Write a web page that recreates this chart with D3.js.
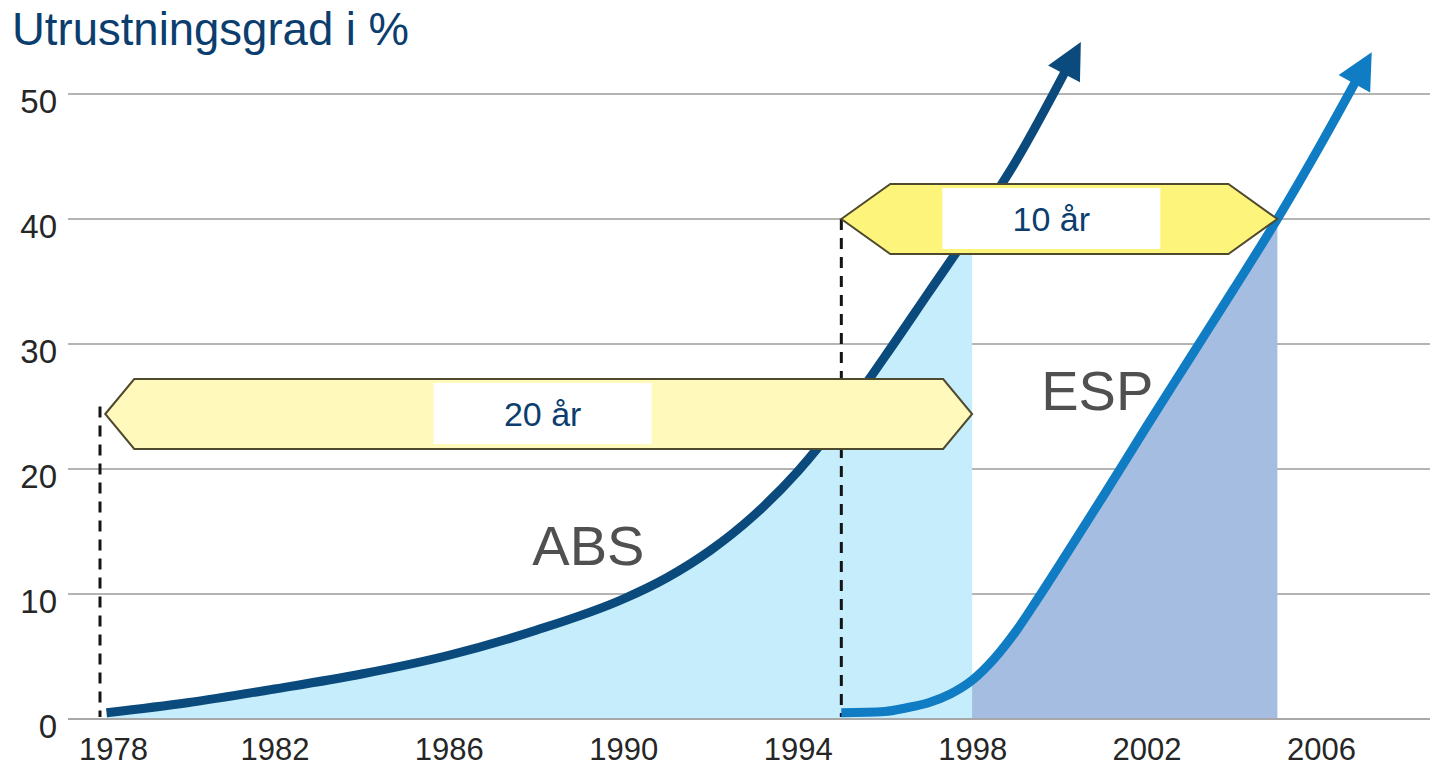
<!DOCTYPE html>
<html>
<head>
<meta charset="utf-8">
<script src="https://cdn.jsdelivr.net/npm/d3@7"></script>
<style>
  html, body { margin: 0; padding: 0; background: #ffffff; }
  svg { display: block; font-family: "Liberation Sans", Arial, sans-serif; }
</style>
</head>
<body>
<svg id="chart" width="1430" height="768"></svg>
<script>
// ---------- data ----------
const titleText = "Utrustningsgrad i %";
const xTickYears = [1978, 1982, 1986, 1990, 1994, 1998, 2002, 2006];
const yTickValues = [0, 10, 20, 30, 40, 50];

const absYears  = [1978.15, 1980, 1982, 1984, 1986, 1988, 1990, 1991, 1992, 1993, 1994, 1995, 1996, 1997, 1998, 1999, 2000.15];
const absValues = [0.5,     1.3,  2.4,  3.6,  5.1,  7.1,  9.6,  11.3, 13.5, 16.3, 19.8, 24.1, 29.0, 34.1, 39.2, 44.6, 51.9];

const espYears  = [1995, 1996, 1996.5, 1997, 1997.5, 1998, 1998.5, 1999, 1999.5, 2000, 2001, 2002, 2003, 2004, 2005, 2006, 2006.81];
const espValues = [0.5,  0.6,  0.9,    1.3,  2.0,    3.1,  4.8,    7.0,  9.6,    12.3, 17.8, 23.4, 28.9, 34.4, 40,   46,   51.1];

const fillFrom = [1978.15, 1995];
const fillTo   = [1998, 2005];

const seriesNames       = ["ABS", "ESP"];
const seriesLabelYear   = [1989.2, 2000.87];
const seriesLabelValue  = [12.3, 24.7];

const spanLabels = ["20 år", "10 år"];
const spanFrom   = [1978.12, 1995];
const spanTo     = [1998, 2005];
const spanLevel  = [24.4, 40];

const guideYears = [1978, 1995];
const guideTops  = [25, 40];

// ---------- styles ----------
const W = 1430, H = 768;
const lineColors = ["#0b4a7c", "#0f7cc3"];
const fillColors = ["#c6edfb", "#a4bde1"];
const spanFills  = ["#fff9bb", "#fdf47c"];
const spanSlant  = [29, 49];
const spanLabelShift = [4, -8];
const spanHeight = 70;

const svg = d3.select("#chart");

const x = d3.scaleLinear().domain([1978, 2006]).range([100, 1321]);
const y = d3.scaleLinear().domain([0, 50]).range([719, 94]);

// ---------- gridlines ----------
svg.append("g").selectAll("line")
  .data(yTickValues.filter(v => v > 0))
  .join("line")
  .attr("x1", 68).attr("x2", W)
  .attr("y1", d => y(d)).attr("y2", d => y(d))
  .attr("stroke", "#b4b4b4").attr("stroke-width", 2);

// ---------- fills ----------
const absData = absYears.map((t, i) => ({t, v: absValues[i]}));
const espData = espYears.map((t, i) => ({t, v: espValues[i]}));
const allData = [absData, espData];

const area = d3.area().curve(d3.curveMonotoneX)
  .x(d => x(d.t)).y0(y(0)).y1(d => y(d.v));

// draw ESP fill first then ABS fill on top
[1, 0].forEach(i => {
  svg.append("path")
    .datum(allData[i].filter(d => d.t >= fillFrom[i] && d.t <= fillTo[i]))
    .attr("d", area)
    .attr("fill", fillColors[i]);
});

// baseline
svg.append("line")
  .attr("x1", 68).attr("x2", W)
  .attr("y1", y(0)).attr("y2", y(0))
  .attr("stroke", "#a8a8a8").attr("stroke-width", 2);

// ---------- axes ----------
const yAxis = d3.axisLeft(y).tickValues(yTickValues).tickSize(0).tickPadding(11);
const gy = svg.append("g").attr("transform", "translate(68,0)").call(yAxis);
gy.select(".domain").remove();
gy.selectAll("text")
  .attr("font-size", 33).attr("fill", "#262626")
  .attr("font-family", "Liberation Sans, Arial, sans-serif")
  .attr("dy", "0.55em");

const xAxis = d3.axisBottom(x).tickValues(xTickYears).tickSize(0).tickFormat(d3.format("d"));
const gx = svg.append("g").attr("transform", `translate(0,${y(0)})`).call(xAxis);
gx.select(".domain").remove();
gx.selectAll("text")
  .attr("font-size", 31).attr("fill", "#262626")
  .attr("font-family", "Liberation Sans, Arial, sans-serif")
  .attr("y", 41).attr("dy", 0)
  .attr("dx", (d, i) => i === 0 ? 13 : 0);

// ---------- guide dashed lines ----------
svg.append("g").selectAll("line")
  .data(guideYears)
  .join("line")
  .attr("x1", d => x(d)).attr("x2", d => x(d))
  .attr("y1", (d, i) => y(guideTops[i])).attr("y2", y(0) - 2)
  .attr("stroke", "#141414").attr("stroke-width", 3)
  .attr("stroke-dasharray", "11,8");

// ---------- arrow markers ----------
const defs = svg.append("defs");
lineColors.forEach((c, i) => {
  defs.append("marker")
    .attr("id", "head" + i)
    .attr("markerUnits", "userSpaceOnUse")
    .attr("orient", "auto")
    .attr("refX", 0).attr("refY", 0)
    .attr("markerWidth", 80).attr("markerHeight", 80)
    .attr("viewBox", "-40 -40 80 80")
    .append("path")
    .attr("d", "M-4,-18 L32,0 L-4,18 Z")
    .attr("fill", c);
});

// ---------- lines ----------
const line = d3.line().curve(d3.curveMonotoneX).x(d => x(d.t)).y(d => y(d.v));
allData.forEach((data, i) => {
  svg.append("path")
    .datum(data)
    .attr("d", line)
    .attr("fill", "none")
    .attr("stroke", lineColors[i])
    .attr("stroke-width", 9)
    .attr("marker-end", `url(#head${i})`);
});

// ---------- series labels ----------
svg.append("g").selectAll("text")
  .data(seriesNames)
  .join("text")
  .attr("x", (d, i) => x(seriesLabelYear[i]))
  .attr("y", (d, i) => y(seriesLabelValue[i]))
  .attr("text-anchor", "middle")
  .attr("font-size", 56)
  .attr("fill", "#505050")
  .text(d => d);

// ---------- span boxes ----------
spanLabels.forEach((label, i) => {
  const x0 = x(spanFrom[i]), x1 = x(spanTo[i]), yc = y(spanLevel[i]);
  const s = spanSlant[i], h = spanHeight / 2;
  const g = svg.append("g");
  const pts = [[x0, yc], [x0 + s, yc - h], [x1 - s, yc - h], [x1, yc], [x1 - s, yc + h], [x0 + s, yc + h]];
  g.append("path")
    .attr("d", d3.line()(pts) + "Z")
    .attr("fill", spanFills[i])
    .attr("stroke", "#4f4a2e")
    .attr("stroke-width", 2)
    .attr("stroke-linejoin", "miter");
  const cx = (x0 + x1) / 2 + spanLabelShift[i];
  g.append("rect")
    .attr("x", cx - 109).attr("y", yc - 31)
    .attr("width", 218).attr("height", 61)
    .attr("fill", "#ffffff");
  g.append("text")
    .attr("x", cx).attr("y", yc + 12)
    .attr("text-anchor", "middle")
    .attr("font-size", 34)
    .attr("fill", "#0b3d6e")
    .text(label);
});

// ---------- title ----------
svg.append("text")
  .attr("x", 12).attr("y", 45)
  .attr("font-size", 45.5)
  .attr("fill", "#0b3d6e")
  .text(titleText);
</script>
</body>
</html>
